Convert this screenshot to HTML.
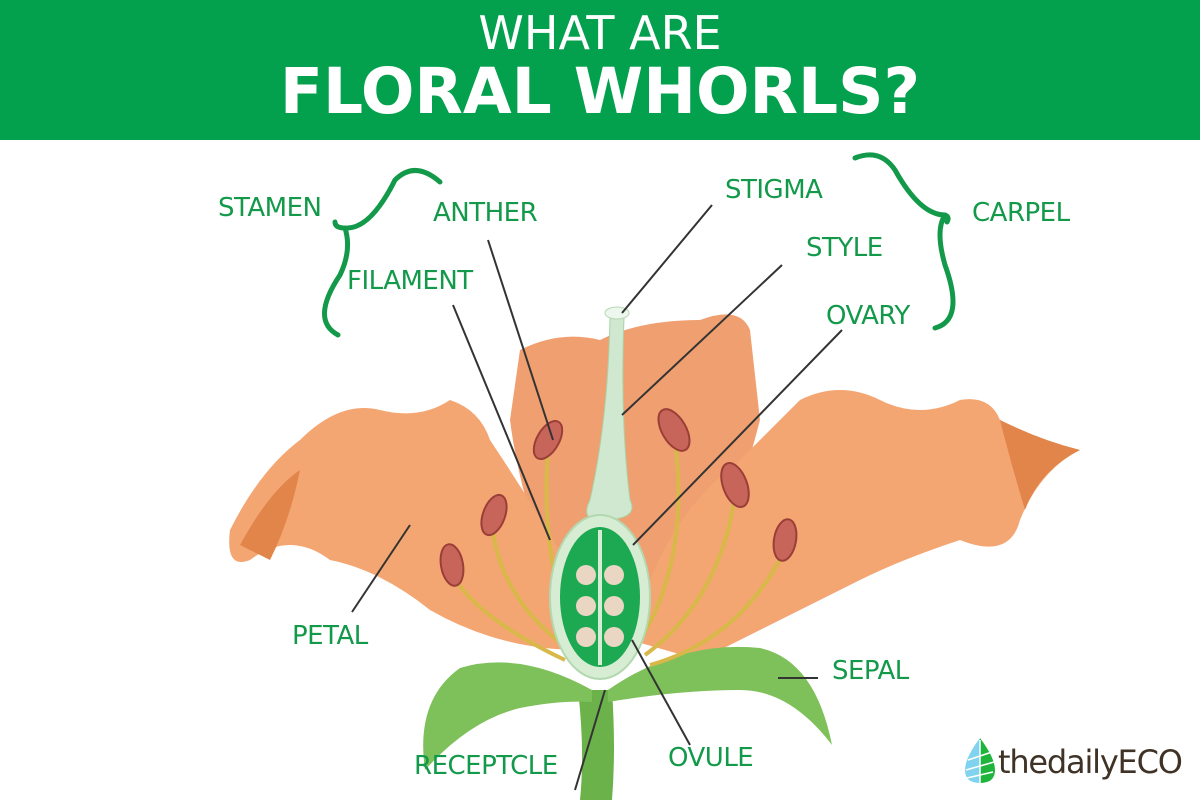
<!DOCTYPE html>
<html><head><meta charset="utf-8"><style>
html,body{margin:0;padding:0;background:#fff;}
body{width:1200px;height:800px;overflow:hidden;position:relative;font-family:"Liberation Sans",sans-serif;}
.hdr{position:absolute;left:0;top:0;width:1200px;height:140px;background:#03a04d;color:#fff;text-align:center;}
.l{position:absolute;color:#13994a;font-size:26px;font-family:"DejaVu Sans","Liberation Sans",sans-serif;letter-spacing:-0.5px;white-space:nowrap;}
</style></head><body>
<div class="hdr">
<div style="position:absolute;left:0;width:1200px;top:6px;font-size:46px;font-family:'DejaVu Sans',sans-serif;">WHAT ARE</div>
<div style="position:absolute;left:0;width:1200px;top:55px;font-size:63px;font-weight:bold;font-family:'DejaVu Sans',sans-serif;">FLORAL WHORLS?</div>
</div>
<svg width="1200" height="800" style="position:absolute;left:0;top:0">
<path d="M578,690 Q585,750 580,800 L612,800 Q616,750 612,690 Z" fill="#6bb24a"/>
<path d="M520,350 Q560,330 600,340 Q640,320 700,320 Q740,305 750,330 L760,420 Q740,500 700,580 L560,600 Q520,500 510,420 Z" fill="#f0a070"/>
<path d="M230,530 Q260,470 300,440 Q340,400 380,410 Q420,420 450,400 Q480,410 490,440 Q530,500 565,560 L580,650 Q500,650 430,610 Q380,570 330,560 Q290,530 250,560 Q225,570 230,530 Z" fill="#f4a672"/>
<path d="M240,545 Q270,490 300,470 Q290,520 270,560 Z" fill="#e2854a"/>
<path d="M630,640 Q660,520 740,460 Q780,420 800,400 Q840,380 880,400 Q920,420 960,400 Q990,395 1000,420 Q1040,440 1080,450 Q1040,470 1020,520 Q1010,560 960,540 Q900,560 860,580 Q780,620 700,660 Z" fill="#f4a672"/>
<path d="M1000,420 Q1040,440 1080,450 Q1040,470 1025,510 Q1010,460 1000,420 Z" fill="#e2854a"/>
<path d="M592,690 Q520,650 460,668 Q415,700 425,770 Q470,720 520,708 Q560,700 592,702 Z" fill="#7ec15a"/>
<path d="M608,690 Q680,640 760,648 Q815,660 832,745 Q790,690 740,690 Q680,690 608,702 Z" fill="#7ec15a"/>
<g stroke="#d9b84a" stroke-width="4" fill="none">
<path d="M548,450 Q540,560 575,640"/><path d="M492,525 Q500,600 570,650"/><path d="M452,575 Q480,620 565,660"/>
<path d="M675,440 Q690,560 640,640"/><path d="M735,495 Q720,600 645,655"/><path d="M785,550 Q740,640 650,665"/>
</g>
<g fill="#c8655a" stroke="#9a3f38" stroke-width="2">
<ellipse cx="548" cy="440" rx="11" ry="21" transform="rotate(30 548 440)"/>
<ellipse cx="494" cy="515" rx="11" ry="21" transform="rotate(20 494 515)"/>
<ellipse cx="452" cy="565" rx="11" ry="21" transform="rotate(-10 452 565)"/>
<ellipse cx="674" cy="430" rx="12" ry="23" transform="rotate(-30 674 430)"/>
<ellipse cx="735" cy="485" rx="12" ry="23" transform="rotate(-20 735 485)"/>
<ellipse cx="785" cy="540" rx="11" ry="21" transform="rotate(10 785 540)"/>
</g>
<path d="M610,318 L624,318 Q620,420 630,500 Q640,520 600,520 Q580,520 590,500 Q608,420 610,318 Z" fill="#cfe8cf" stroke="#a9d3a7"/>
<ellipse cx="617" cy="313" rx="12" ry="6" fill="#eef7ee" stroke="#b7d9b5"/>
<ellipse cx="600" cy="597" rx="50" ry="82" fill="#d6edd3" stroke="#b3d8b0" stroke-width="2"/>
<ellipse cx="600" cy="597" rx="40" ry="70" fill="#1da852"/>
<rect x="598" y="530" width="4" height="135" fill="#d6edd3"/>
<g fill="#e9d6c3">
<circle cx="586" cy="575" r="10"/><circle cx="614" cy="575" r="10"/>
<circle cx="586" cy="606" r="10"/><circle cx="614" cy="606" r="10"/>
<circle cx="586" cy="637" r="10"/><circle cx="614" cy="637" r="10"/>
</g>
<g stroke="#333" stroke-width="2">
<line x1="712" y1="205" x2="622" y2="313"/>
<line x1="782" y1="265" x2="622" y2="415"/>
<line x1="842" y1="330" x2="633" y2="545"/>
<line x1="488" y1="240" x2="553" y2="440"/>
<line x1="453" y1="305" x2="550" y2="540"/>
<line x1="410" y1="525" x2="352" y2="612"/>
<line x1="818" y1="678" x2="778" y2="678"/>
<line x1="632" y1="640" x2="690" y2="745"/>
<line x1="605" y1="690" x2="575" y2="790"/>
</g>
<g stroke="#13994a" stroke-width="5" fill="none" stroke-linecap="round">
<path d="M440,182 Q415,160 395,180 Q370,230 345,228 Q335,228 335,222 M345,228 Q352,250 340,275 Q310,320 338,335"/>
<path d="M855,158 Q880,148 895,170 Q920,215 945,215 Q950,217 947,222 M945,215 Q935,230 945,265 Q965,320 935,328"/>
</g>
<path d="M980,738 Q965,758 965,770 Q965,783 980,783 Z" fill="#7fd3ee"/>
<path d="M980,738 Q995,758 995,770 Q995,783 980,783 Z" fill="#1fb43c"/>
<g stroke="#fff" stroke-width="1.5"><line x1="968" y1="760" x2="992" y2="752"/><line x1="966" y1="770" x2="994" y2="762"/><line x1="967" y1="778" x2="993" y2="772"/><line x1="980" y1="740" x2="980" y2="783"/></g>
</svg>
<div class="l" style="left:218px;top:193px">STAMEN</div>
<div class="l" style="left:433px;top:198px">ANTHER</div>
<div class="l" style="left:347px;top:266px">FILAMENT</div>
<div class="l" style="left:725px;top:175px">STIGMA</div>
<div class="l" style="left:806px;top:233px">STYLE</div>
<div class="l" style="left:826px;top:301px">OVARY</div>
<div class="l" style="left:972px;top:198px">CARPEL</div>
<div class="l" style="left:292px;top:621px">PETAL</div>
<div class="l" style="left:832px;top:656px">SEPAL</div>
<div class="l" style="left:668px;top:743px">OVULE</div>
<div class="l" style="left:414px;top:751px">RECEPTCLE</div>
<div style="position:absolute;left:998px;top:743px;font-size:32px;color:#3f3226;font-family:'DejaVu Sans',sans-serif;letter-spacing:-1.2px">thedailyECO</div>
</body></html>
